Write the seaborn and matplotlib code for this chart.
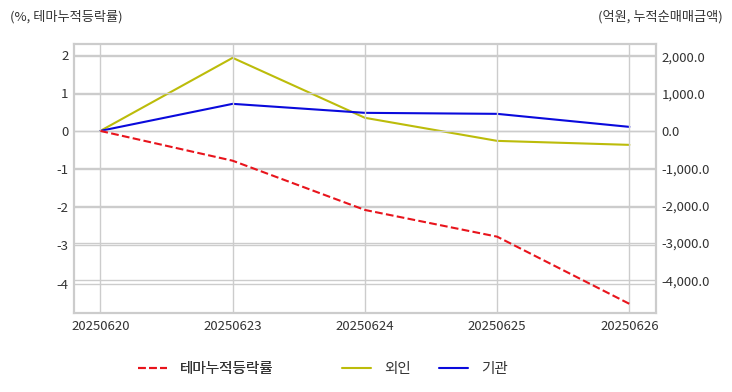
import matplotlib
matplotlib.use("Agg")
from matplotlib import pyplot as plt
from matplotlib.lines import Line2D
from matplotlib.ticker import FuncFormatter
import numpy as np
import pandas as pd
import seaborn as sns

# data
dates = ['20250620', '20250623', '20250624', '20250625', '20250626']
theme_return = [0.0, -0.78, -2.07, -2.77, -4.53]      # % (left axis)
foreign_net = [0.0, 1957.0, 350.0, -268.0, -375.0]     # 억원 (right axis)
inst_net = [0.0, 724.0, 483.0, 456.0, 107.0]           # 억원 (right axis)

left_ticks = [-4, -3, -2, -1, 0, 1, 2]
right_ticks = [-4000, -3000, -2000, -1000, 0, 1000, 2000]

sns.set_style("whitegrid")
plt.rcParams['font.family'] = ['Noto Sans CJK KR', 'DejaVu Sans']

df = pd.DataFrame({'date': dates, 'theme': theme_return,
                   'foreign': foreign_net, 'inst': inst_net})
df['x'] = np.arange(len(dates))

fig = plt.figure(figsize=(7.32, 3.92), dpi=100)
ax = fig.add_axes([0.101, 0.2015, 0.795, 0.6865])
ax2 = ax.twinx()

grid_c = '#cccccc'
text_c = '#333333'
red_c, yel_c, blu_c = '#e8141c', '#bcbc0a', '#0a0adc'

sns.lineplot(data=df, x='x', y='theme', ax=ax, color=red_c, linestyle='--', linewidth=1.5)
sns.lineplot(data=df, x='x', y='foreign', ax=ax2, color=yel_c, linewidth=1.5)
sns.lineplot(data=df, x='x', y='inst', ax=ax2, color=blu_c, linewidth=1.5)

ax.set_xlim(-0.2, 4.2)
ax.set_ylim(-4.77, 2.28)
ax2.set_ylim(-4880, 2330)
ax.set_xticks(df['x'])
ax.set_xticklabels(dates)
ax.set_yticks(left_ticks)
ax.set_yticklabels([str(t) for t in left_ticks])
ax2.set_yticks(right_ticks)
ax2.yaxis.set_major_formatter(FuncFormatter(lambda v, p: f"{v:,.1f}"))

for a in (ax, ax2):
    a.set_xlabel('')
    a.set_ylabel('')
    a.tick_params(length=0, labelsize=9.5, colors=text_c, pad=4)
    a.grid(True, color=grid_c, linewidth=1)
    for s in a.spines.values():
        s.set_color(grid_c)
        s.set_linewidth(1.5)
ax.set_zorder(ax2.get_zorder() + 1)
ax.patch.set_visible(False)
ax2.grid(True, axis='y', color=grid_c, linewidth=1)
ax2.grid(False, axis='x')
ax.tick_params(axis='x', pad=5)

fig.text(0.013, 0.958, '(%, 테마누적등락률)', fontsize=9.5, color=text_c, ha='left', va='center')
fig.text(0.987, 0.958, '(억원, 누적순매매금액)', fontsize=9.5, color=text_c, ha='right', va='center')

# legend: two groups, the theme line sits apart from the two investor lines
leg_kw = dict(loc='center left', frameon=False, fontsize=10.5, borderpad=0,
              borderaxespad=0, handlelength=2.0, handletextpad=0.9,
              labelcolor=text_c)
leg1 = fig.legend([Line2D([], [], color=red_c, linestyle='--', linewidth=1.5)],
                  ['테마누적등락률'], bbox_to_anchor=(0.1885, 0.058), **leg_kw)
fig.legend([Line2D([], [], color=yel_c, linewidth=1.5),
            Line2D([], [], color=blu_c, linewidth=1.5)],
           ['외인', '기관'], ncol=2, columnspacing=1.9,
           bbox_to_anchor=(0.467, 0.058), **leg_kw)
fig.add_artist(leg1)

fig.savefig('out.png', dpi=100)
